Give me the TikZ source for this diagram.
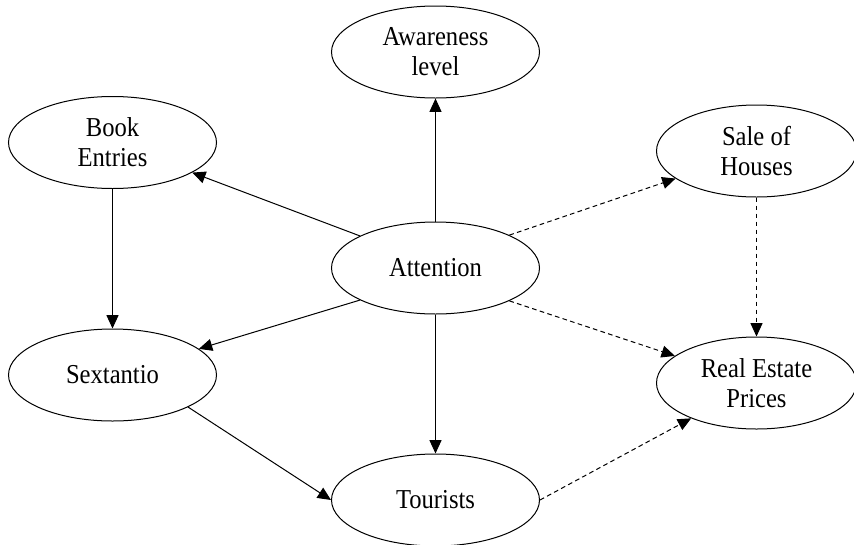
\documentclass[tikz,border=0pt]{standalone}
\usepackage{fontspec}
\setmainfont{Liberation Serif}
\newfontfamily\nodefont[FakeStretch=0.9]{Liberation Serif}
\usetikzlibrary{arrows.meta,shapes.geometric}
\begin{document}
\begin{tikzpicture}[x=0.75pt,y=-0.75pt,
  ell/.style={ellipse,draw,line width=0.75pt,inner sep=0pt,minimum width=156pt,minimum height=69pt,
    align=center,font=\nodefont\fontsize{20.5}{22.5}\selectfont},
  ellr/.style={ell,minimum width=150pt},
  arr/.style={line width=0.75pt,-{Triangle[length=10pt,width=9pt]}},
  darr/.style={arr,dash pattern=on 3.5pt off 2.5pt}]
\useasboundingbox (0,0) rectangle (854,544);
\node[ell] (aware) at (435.5,52) {Awareness\\level};
\node[ell] (book) at (112.5,142.5) {Book\\Entries};
\node[ellr] (sale) at (756.5,151) {Sale of\\Houses};
\node[ell] (att) at (435.5,268) {Attention};
\node[ell] (sext) at (112.5,375) {Sextantio};
\node[ellr] (real) at (756.5,383) {Real Estate\\Prices};
\node[ell] (tour) at (435.5,500) {Tourists};
\draw[arr] (att.north) -- (aware.south);
\draw[arr] (att.157) -- (book);
\draw[arr] (att.203) -- (sext);
\draw[arr] (att.south) -- (tour.north);
\draw[arr] (book.south) -- (sext.north);
\draw[arr] (sext.-23) -- (tour.west);
\draw[darr] (att.24) -- (sale);
\draw[darr] (att.-24) -- (real);
\draw[darr] (sale.south) -- (real.north);
\draw[darr] (tour.east) -- (real);
\end{tikzpicture}
\end{document}
